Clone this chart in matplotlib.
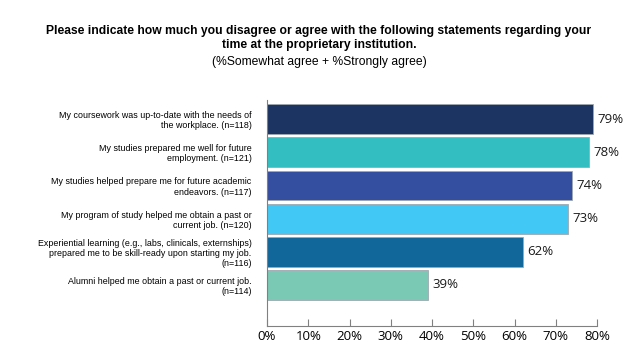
import matplotlib
matplotlib.use("Agg")
import matplotlib.pyplot as plt

labels = [
    "My coursework was up-to-date with the needs of\nthe workplace. (n=118)",
    "My studies prepared me well for future\nemployment. (n=121)",
    "My studies helped prepare me for future academic\nendeavors. (n=117)",
    "My program of study helped me obtain a past or\ncurrent job. (n=120)",
    "Experiential learning (e.g., labs, clinicals, externships)\nprepared me to be skill-ready upon starting my job.\n(n=116)",
    "Alumni helped me obtain a past or current job.\n(n=114)",
]
values = [79, 78, 74, 73, 62, 39]
colors = ["#1b3461", "#33bfc1", "#344ea0", "#42c8f4", "#11669a", "#79c9b4"]
xticks = [0, 10, 20, 30, 40, 50, 60, 70, 80]

narrow = ["Liberation Sans", "DejaVu Sans"]
body = ["Open Sans", "DejaVu Sans"]

fig = plt.figure(figsize=(6.38, 3.6), dpi=100)
ax = fig.add_axes([267 / 638, 1 - 326 / 360, 330 / 638, 226 / 360])

pos = list(range(len(values)))
ax.barh(pos, values, height=0.9, color=colors, edgecolor="#a0a8b0", linewidth=0.6)
ax.set_ylim(len(values) - 1 + 1.24, -0.58)
ax.set_xlim(0, 80)

for p, v in zip(pos, values):
    ax.text(v + 1.1, p, f"{v}%", va="center", ha="left", fontsize=9.5,
            family=body, color="#1a1a1a")

ax.set_yticks(pos)
ax.set_yticklabels(labels, family=narrow, fontsize=6.4, linespacing=1.15)
ax.tick_params(axis="y", length=0, pad=11)

ax.set_xticks(xticks)
ax.set_xticklabels([f"{t}%" for t in xticks], family=body, fontsize=9.5)
ax.tick_params(axis="x", direction="in", length=5, color="#808080", pad=3)

for s in ["top", "right"]:
    ax.spines[s].set_visible(False)
ax.spines["left"].set_color("#808080")
ax.spines["bottom"].set_color("#808080")

fig.text(0.5, 1 - 38 / 360, "Please indicate how much you disagree or agree with the following statements regarding your\ntime at the proprietary institution.",
         ha="center", va="center", fontsize=8.7, fontweight="bold", family=narrow, linespacing=1.3)
fig.text(0.5, 1 - 62 / 360, "(%Somewhat agree + %Strongly agree)", ha="center", va="center",
         fontsize=8.7, family=narrow)

fig.savefig("out.png", dpi=100)
